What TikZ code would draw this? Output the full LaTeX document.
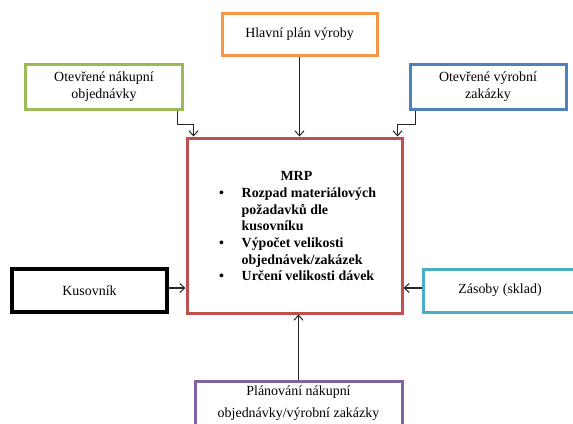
\documentclass[tikz,border=0pt]{standalone}
\usepackage{fontspec}
\setmainfont{Liberation Serif}
\usetikzlibrary{arrows.meta}
\definecolor{planorange}{HTML}{F79646}
\definecolor{ordergreen}{HTML}{9BBB59}
\definecolor{jobblue}{HTML}{4F81BD}
\definecolor{mrpred}{HTML}{C0504D}
\definecolor{stockcyan}{HTML}{4BACC6}
\definecolor{planpurple}{HTML}{8064A2}
\begin{document}
\begin{tikzpicture}[x=1bp,y=-1bp,
  box/.style={draw, line width=3bp, fill=white, inner sep=0pt, align=center,
    font=\fontsize{14}{17}\selectfont},
  link/.style={draw=black!85, line width=1.1bp,
    -{Straight Barb[length=5bp,width=9bp,line width=1bp]}}]
\useasboundingbox (0,0) rectangle (573,423);

% input boxes
\node[box, draw=planorange, minimum width=155bp, minimum height=42bp]
  (plan) at (299.5,34) {Hlavní plán výroby};
\node[box, draw=ordergreen, minimum width=156bp, minimum height=45bp]
  (buy) at (104,86.5) {Otevřené nákupní\\objednávky};
\node[box, draw=jobblue, minimum width=156bp, minimum height=45bp]
  (make) at (488,86.5) {Otevřené výrobní\\zakázky};
\node[box, draw=black, line width=3.8bp, minimum width=155bp, minimum height=43bp]
  (bom) at (89.5,290.5) {Kusovník};
\node[box, draw=stockcyan, minimum width=154bp, minimum height=43bp]
  (stock) at (500,290.5) {Zásoby (sklad)};
\node[box, draw=planpurple, minimum width=207bp, minimum height=45bp,
  font=\fontsize{14}{22}\selectfont]
  (orders) at (298.5,403.5) {Plánování nákupní\\objednávky/výrobní zakázky};

% central MRP block
\node[box, draw=mrpred, minimum width=215bp, minimum height=175bp]
  (mrp) at (294.5,225.5) {};
\node[anchor=west, inner sep=0pt, font=\bfseries\fontsize{14}{16.7}\selectfont]
  (mrptxt) at ([xshift=31bp,yshift=-2bp]mrp.west) {%
  \begin{tabular}{@{}l@{}l@{}}
    \multicolumn{2}{c}{MRP}\\
    \makebox[25bp][l]{\hspace{2.5bp}•} & Rozpad materiálových\\
     & požadavků dle\\
     & kusovníku\\
    \makebox[25bp][l]{\hspace{2.5bp}•} & Výpočet velikosti\\
     & objednávek/zakázek\\
    \makebox[25bp][l]{\hspace{2.5bp}•} & Určení velikosti dávek
  \end{tabular}};

% connectors
\draw[link] (plan.south) -- (plan.south |- mrp.north);
\draw[link] ([xshift=-6bp]buy.south east) -- ++(0,14) -| ([xshift=8bp]mrp.north west);
\draw[link] ([xshift=7bp]make.south west) -- ++(0,14) -| ([xshift=-6bp]mrp.north east);
\draw[link] ([yshift=2.5bp]bom.east) -- ([yshift=2.5bp]bom.east -| mrp.west);
\draw[link] ([yshift=2.5bp]stock.west) -- ([yshift=2.5bp]stock.west -| mrp.east);
\draw[link] (orders.north) -- (orders.north |- mrp.south);
\end{tikzpicture}
\end{document}
